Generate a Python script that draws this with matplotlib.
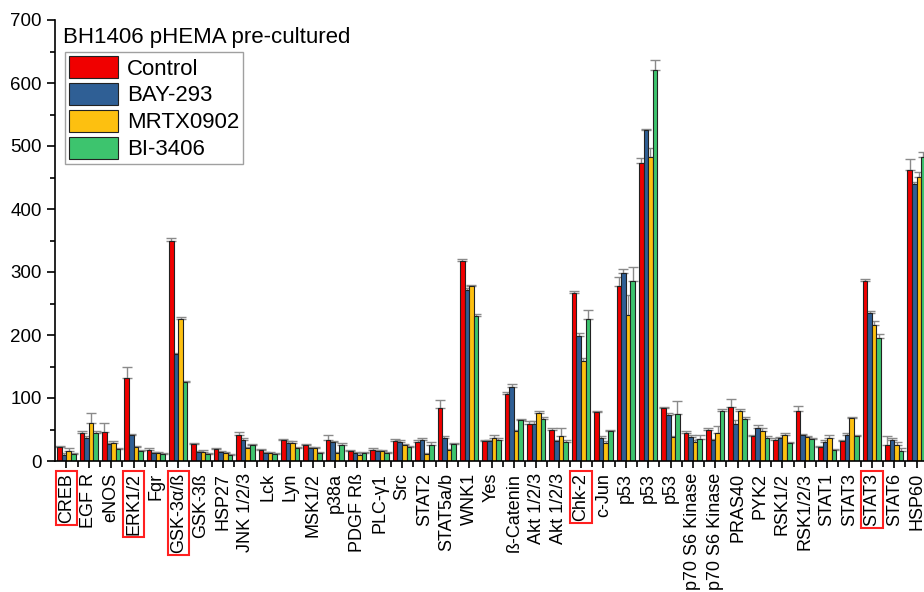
import numpy as np
import matplotlib
matplotlib.use("Agg")
from matplotlib import pyplot as plt
from matplotlib.ticker import MultipleLocator, FixedLocator

plt.rcParams['font.family'] = ['Liberation Sans', 'DejaVu Sans']

labels = ['CREB', 'EGF R', 'eNOS', 'ERK1/2', 'Fgr', 'GSK-3α/ß', 'GSK-3ß', 'HSP27',
          'JNK 1/2/3', 'Lck', 'Lyn', 'MSK1/2', 'p38a', 'PDGF Rß', 'PLC-γ1', 'Src',
          'STAT2', 'STAT5a/b', 'WNK1', 'Yes', 'ß-Catenin', 'Akt 1/2/3', 'Akt 1/2/3',
          'Chk-2', 'c-Jun', 'p53', 'p53', 'p53', 'p70 S6 Kinase', 'p70 S6 Kinase',
          'PRAS40', 'PYK2', 'RSK1/2', 'RSK1/2/3', 'STAT1', 'STAT3', 'STAT3', 'STAT6', 'HSP60']
boxed = [0, 3, 5, 23, 36]  # labels framed in red

control = [22, 45, 46, 132, 17, 350, 27, 19, 42, 17, 33, 25, 34, 16, 18, 32, 30, 84, 317,
           32, 107, 58, 50, 267, 77, 277, 473, 84, 45, 50, 86, 39, 34, 80, 22, 32, 286, 25, 462]
bay293 = [10, 37, 27, 41, 13, 170, 14, 14, 33, 13, 28, 21, 30, 12, 16, 30, 33, 37, 272,
          32, 117, 59, 32, 198, 37, 299, 525, 73, 38, 33, 59, 53, 36, 41, 30, 41, 235, 33, 439]
mrtx0902 = [16, 61, 29, 22, 13, 226, 15, 12, 21, 12, 29, 20, 12, 10, 16, 25, 11, 17, 278,
            36, 47, 76, 40, 158, 29, 232, 482, 38, 30, 45, 80, 47, 42, 38, 36, 68, 216, 25, 451]
bi3406 = [11, 45, 19, 16, 11, 125, 11, 9, 25, 11, 21, 13, 25, 13, 13, 22, 26, 27, 230,
          34, 65, 67, 30, 226, 47, 286, 621, 74, 35, 79, 67, 37, 28, 35, 17, 39, 196, 16, 482]

err_control = [2, 2, 15, 17, 4, 4, 2, 2, 4, 2, 2, 2, 7, 2, 2, 3, 3, 13, 4,
               2, 3, 5, 2, 3, 2, 15, 8, 2, 2, 2, 13, 2, 2, 7, 2, 2, 3, 15, 18]
err_bay293 = [2, 3, 2, 2, 2, 2, 2, 2, 4, 2, 3, 2, 2, 2, 2, 3, 3, 2, 2,
              2, 6, 5, 2, 5, 3, 5, 2, 3, 3, 2, 6, 4, 2, 2, 3, 4, 3, 3, 4]
err_mrtx0902 = [4, 15, 2, 2, 2, 2, 2, 2, 2, 2, 3, 2, 2, 2, 2, 2, 2, 2, 2,
                5, 2, 3, 12, 5, 2, 32, 15, 2, 4, 10, 2, 5, 3, 2, 6, 2, 7, 5, 8]
err_bi3406 = [2, 3, 2, 2, 2, 2, 2, 2, 2, 2, 2, 2, 4, 2, 2, 2, 4, 2, 4,
              2, 2, 3, 3, 14, 2, 22, 15, 21, 6, 3, 3, 2, 2, 2, 2, 2, 6, 5, 8]

series = [('Control', control, err_control, '#f00000'),
          ('BAY-293', bay293, err_bay293, '#2f5f95'),
          ('MRTX0902', mrtx0902, err_mrtx0902, '#fdc010'),
          ('BI-3406', bi3406, err_bi3406, '#3dc46e')]

fig = plt.figure(figsize=(9.24, 5.92), dpi=100)
ax = fig.add_axes([55 / 924, 1 - 461 / 592, 1 - 55 / 924, (461 - 20) / 592])

x = np.arange(len(labels))
w = 0.205
for k, (name, vals, errs, col) in enumerate(series):
    pos = x + (k - 1.5) * w
    ax.errorbar(pos, vals, yerr=[np.zeros(len(errs)), errs], fmt='none',
                ecolor='#8a8a8a', elinewidth=1, capsize=3.5, capthick=1, zorder=1)
    ax.bar(pos, vals, width=w, color=col, edgecolor='#222222', linewidth=0.8,
           label=name, zorder=2)

ax.set_ylim(0, 700)
ax.set_xlim(-0.51, 38.33)
ax.yaxis.set_major_locator(MultipleLocator(100))
ax.yaxis.set_minor_locator(MultipleLocator(50))
ax.set_xticks(x)
ax.set_xticklabels(labels, rotation=90, fontsize=13)
ax.xaxis.set_minor_locator(FixedLocator(x[:-1] + 0.5))
ax.tick_params(axis='y', labelsize=13.5, width=1.2, length=6, direction='out')
ax.tick_params(axis='y', which='minor', width=1.2, length=3.5)
ax.tick_params(axis='x', width=1.2, length=5, direction='out')
ax.tick_params(axis='x', which='minor', width=1.2, length=4)
for s in ['top', 'right']:
    ax.spines[s].set_visible(False)
for s in ['left', 'bottom']:
    ax.spines[s].set_linewidth(1.2)

for i, t in enumerate(ax.get_xticklabels()):
    if i in boxed:
        t.set_bbox(dict(facecolor='none', edgecolor='#ff2020', linewidth=1.5, pad=1.5))

ax.text(8 / 869, 1 - 18 / 441, 'BH1406 pHEMA pre-cultured', transform=ax.transAxes,
        fontsize=16, ha='left', va='center')
leg = ax.legend(loc='upper left', bbox_to_anchor=(10 / 869, 1 - 32 / 441),
                fontsize=16, fancybox=False, edgecolor='#a0a0a0',
                handlelength=2.2, handleheight=1.15, handletextpad=0.4, labelspacing=0.15,
                borderpad=0.18, borderaxespad=0, framealpha=1)
leg.get_frame().set_linewidth(1)

fig.savefig('out.png', dpi=100)
